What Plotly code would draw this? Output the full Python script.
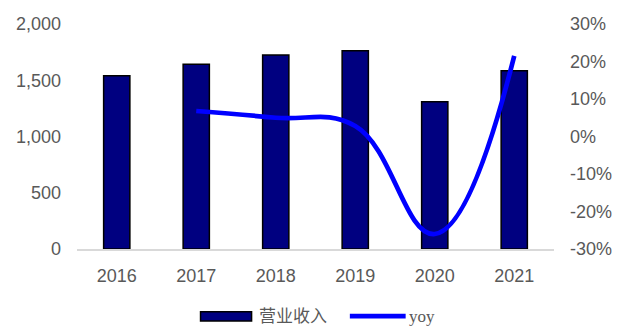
import plotly.graph_objects as go

# Revenue by year with year-over-year growth
years = ["2016", "2017", "2018", "2019", "2020", "2021"]
revenue = [1540, 1642, 1724, 1763, 1308, 1585]
yoy_pct = [None, 6.8, 5.0, 2.8, -26.0, 21.5]

left_ticks = [0, 500, 1000, 1500, 2000]
right_ticks = [-30, -20, -10, 0, 10, 20, 30]
right_labels = [f"{v}%" for v in right_ticks]

bar_color = "#000080"
line_color = "#0000FF"
text_grey = "#595959"
tick_font = dict(family="Liberation Sans, Arial, sans-serif", size=18, color=text_grey)

fig = go.Figure()
fig.add_trace(go.Bar(
    x=years, y=revenue, name="营业收入",
    marker=dict(color=bar_color, line=dict(color="#000000", width=1.5)),
    width=0.33, showlegend=False,
))
fig.add_trace(go.Scatter(
    x=years, y=yoy_pct, name="yoy", yaxis="y2",
    mode="lines", line=dict(color=line_color, width=4.7, shape="spline", smoothing=1.2),
    showlegend=False,
))

# Legend drawn below the plot area (paper coordinates)
legend_font = dict(family="Liberation Serif, Noto Sans CJK SC, serif", size=17, color=text_grey)
legend_y = -0.298
fig.add_shape(type="rect", xref="paper", yref="paper",
              x0=0.259, x1=0.366, y0=-0.320, y1=-0.279,
              fillcolor=bar_color, line=dict(color="#000000", width=1.5))
fig.add_annotation(text="营业收入", xref="paper", yref="paper", x=0.378, y=legend_y,
                   xanchor="left", yanchor="middle", showarrow=False, font=legend_font)
fig.add_shape(type="line", xref="paper", yref="paper",
              x0=0.572, x1=0.689, y0=legend_y, y1=legend_y,
              line=dict(color=line_color, width=4.7))
fig.add_annotation(text="yoy", xref="paper", yref="paper", x=0.692, y=legend_y,
                   xanchor="left", yanchor="middle", showarrow=False, font=legend_font)

fig.update_layout(
    width=624, height=327,
    margin=dict(l=77, r=61, t=24, b=78),
    plot_bgcolor="white", paper_bgcolor="white",
    showlegend=False,
    xaxis=dict(
        showgrid=False, showline=True, linecolor="#d9d9d9", linewidth=1.5,
        tickfont=tick_font, ticks="", ticklabelstandoff=10,
    ),
    yaxis=dict(
        range=[0, 2000], tickvals=left_ticks, tickformat=",d",
        showgrid=False, zeroline=False, showline=False,
        tickfont=tick_font, ticklabelstandoff=15,
    ),
    yaxis2=dict(
        overlaying="y", side="right", range=[-30, 30],
        tickvals=right_ticks, ticktext=right_labels,
        showgrid=False, zeroline=False, showline=False,
        tickfont=tick_font, ticklabelstandoff=15,
    ),
)

fig.write_html("out.html")
